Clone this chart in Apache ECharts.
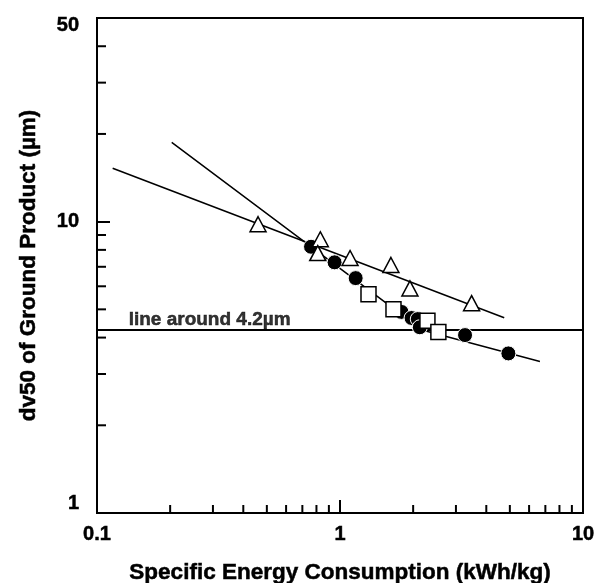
<!DOCTYPE html>
<html>
<head>
<meta charset="utf-8">
<style>
  html, body { margin: 0; padding: 0; background: #fff; }
  #chart { width: 597px; height: 583px; }
</style>
<script src="https://cdn.jsdelivr.net/npm/echarts@6.0.0/dist/echarts.min.js"></script>
</head>
<body>
<div id="chart"></div>
<script>
// open triangles
var triEnergy = [0.46, 0.83, 0.81, 1.10, 1.62, 1.94, 3.48];
var triSize   = [9.8, 8.7, 7.8, 7.5, 7.1, 5.9, 5.25];
// filled circles
var circEnergy = [0.76, 0.95, 1.16, 1.79, 1.97, 2.09, 2.13, 3.27, 4.93];
var circSize   = [8.2, 7.25, 6.4, 4.9, 4.67, 4.63, 4.34, 4.08, 3.53];
// open squares
var sqEnergy = [1.31, 1.66, 2.29, 2.54];
var sqSize   = [5.63, 5.0, 4.57, 4.18];

// fitted lines (end points / bend)
var triFitX  = [0.116, 4.74];
var triFitY  = [15.25, 4.68];
var circFitX = [0.203, 2.175, 6.65];
var circFitY = [18.7, 4.25, 3.31];

// reference level
var refLevel = 4.25;
var refLabel = 'line around 4.2µm';
var refLabelX = 0.135;

// axes
var xMin = 0.1, xMax = 10;
var yMin = 1, yMax = 50;
var xMinorTicks = [0.2, 0.3, 0.4, 0.5, 0.6, 0.7, 0.8, 0.9, 2, 3, 4, 5, 6, 7, 8, 9];
var yMinorTicks = [2, 3, 4, 5, 6, 7, 8, 9, 20, 30, 40];

var FONT = 'Liberation Sans';
var txt = function (size) {
  return { fontFamily: FONT, fontWeight: 'bold', fontSize: size, color: '#000',
           textBorderColor: '#000', textBorderWidth: 0.5 };
};

function zip(a, b) {
  return a.map(function (v, i) { return [v, b[i]]; });
}

var chart = echarts.init(document.getElementById('chart'));

var tickStyle = { stroke: '#000', lineWidth: 2 };

chart.setOption({
  animation: false,
  backgroundColor: '#fff',
  grid: {
    left: 97, right: 14, top: 18, bottom: 70,
    outerBoundsMode: 'none',
    show: true, borderColor: '#000', borderWidth: 2
  },
  xAxis: {
    type: 'log', logBase: 10, min: xMin, max: xMax,
    name: 'Specific Energy Consumption (kWh/kg)',
    nameLocation: 'middle', nameGap: 48,
    nameTextStyle: txt(22.5),
    axisLine: { lineStyle: { color: '#000', width: 2 } },
    axisTick: { inside: true, length: 13, lineStyle: { color: '#000', width: 2 } },
    axisLabel: Object.assign({ margin: 11 }, txt(20)),
    splitLine: { show: false }
  },
  yAxis: {
    type: 'log', logBase: 10, min: yMin, max: yMax,
    name: 'dv50 of Ground Product (µm)',
    nameLocation: 'middle', nameGap: 57,
    nameTextStyle: txt(22.5),
    axisLine: { lineStyle: { color: '#000', width: 2 } },
    axisTick: { inside: true, length: 13, lineStyle: { color: '#000', width: 2 } },
    axisLabel: Object.assign({
      margin: 18,
      formatter: function (v) {
        var r = Math.round(v);
        if (r === 1) return '{lo|1}';
        if (r === 50) return '{hi|50}';
        return '{n|' + r + '}';
      },
      rich: {
        n:  txt(20),
        lo: Object.assign({ padding: [0, 0, 20, 0] }, txt(20)),
        hi: Object.assign({ padding: [14, 0, 0, 0] }, txt(20))
      }
    }, txt(20)),
    splitLine: { show: false }
  },
  series: [
    {
      // minor ticks, x axis
      type: 'custom', silent: true, clip: false, z: 3,
      data: xMinorTicks.map(function (v) { return [v, yMin]; }),
      renderItem: function (params, api) {
        var p = api.coord([api.value(0), api.value(1)]);
        return { type: 'line', shape: { x1: p[0], y1: p[1], x2: p[0], y2: p[1] - 8 }, style: tickStyle };
      }
    },
    {
      // minor ticks, y axis
      type: 'custom', silent: true, clip: false, z: 3,
      data: yMinorTicks.map(function (v) { return [xMin, v]; }),
      renderItem: function (params, api) {
        var p = api.coord([api.value(0), api.value(1)]);
        return { type: 'line', shape: { x1: p[0], y1: p[1], x2: p[0] + 9, y2: p[1] }, style: tickStyle };
      }
    },
    {
      type: 'line', data: [[xMin, refLevel], [xMax, refLevel]],
      symbol: 'none', silent: true, z: 2,
      lineStyle: { color: '#000', width: 2 }
    },
    {
      type: 'line', data: zip(triFitX, triFitY),
      symbol: 'none', silent: true, z: 2,
      lineStyle: { color: '#000', width: 1.5 }
    },
    {
      type: 'line', data: zip(circFitX, circFitY),
      symbol: 'none', silent: true, z: 2,
      lineStyle: { color: '#000', width: 1.5 }
    },
    {
      type: 'scatter', data: [[refLabelX, refLevel]],
      symbolSize: 0, silent: true, z: 4,
      label: Object.assign({
        show: true, formatter: refLabel, position: [0, -1],
        align: 'left', verticalAlign: 'bottom'
      }, txt(19))
    },
    {
      type: 'scatter', data: zip(circEnergy, circSize),
      symbol: 'circle', symbolSize: 15, z: 5,
      itemStyle: { color: '#000', borderColor: '#fff', borderWidth: 1, opacity: 1 }
    },
    {
      type: 'scatter', data: zip(triEnergy, triSize),
      symbol: 'triangle', symbolSize: [16, 15], z: 6,
      itemStyle: { color: '#fff', borderColor: '#000', borderWidth: 1.5, opacity: 1 }
    },
    {
      type: 'scatter', data: zip(sqEnergy, sqSize),
      symbol: 'rect', symbolSize: 15, z: 7,
      itemStyle: { color: '#fff', borderColor: '#000', borderWidth: 1.5, opacity: 1 }
    }
  ]
});
</script>
</body>
</html>
